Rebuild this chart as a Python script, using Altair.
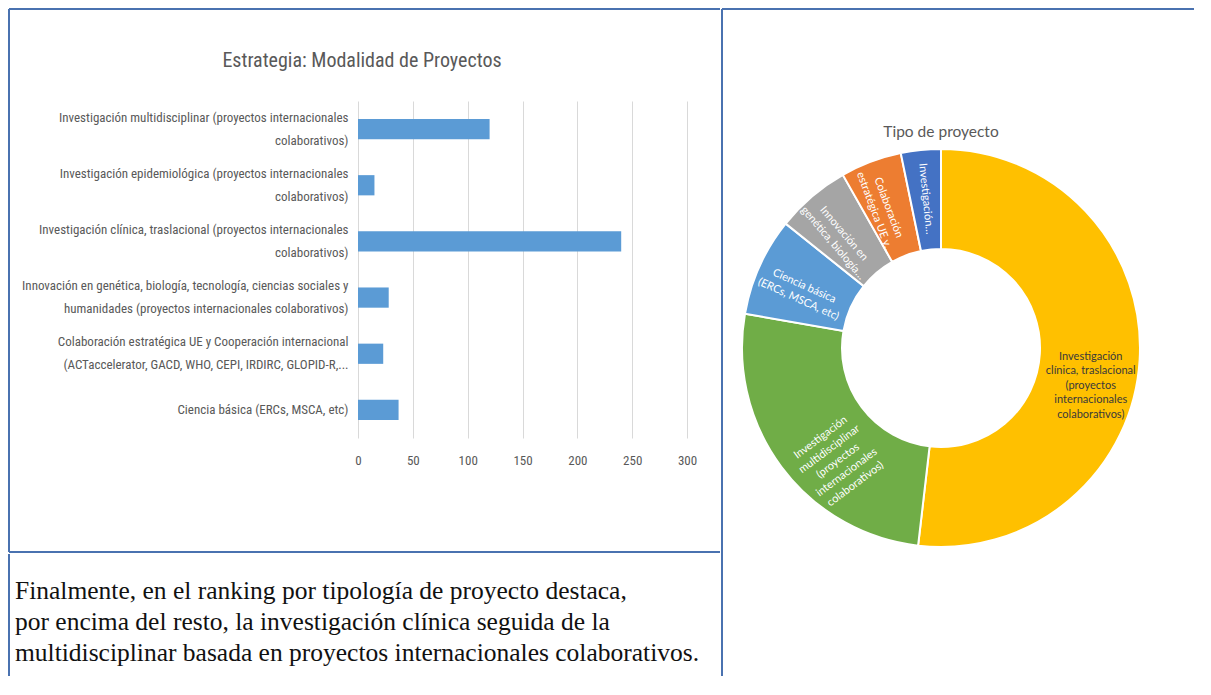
import altair as alt
import pandas as pd

# ---------------- data ----------------
bar_labels = [
    "Investigación multidisciplinar (proyectos internacionales\ncolaborativos)",
    "Investigación epidemiológica (proyectos internacionales\ncolaborativos)",
    "Investigación clínica, traslacional (proyectos internacionales\ncolaborativos)",
    "Innovación en genética, biología, tecnología, ciencias sociales y\nhumanidades (proyectos internacionales colaborativos)",
    "Colaboración estratégica UE y Cooperación internacional\n(ACTaccelerator, GACD, WHO, CEPI, IRDIRC, GLOPID-R,...",
    "Ciencia básica (ERCs, MSCA, etc)",
]
bar_values = [120, 15, 240, 28, 23, 37]
x_ticks = [0, 50, 100, 150, 200, 250, 300]
bar_title = "Estrategia: Modalidad de Proyectos"

donut_labels = [
    "Investigación\nclínica, traslacional\n(proyectos\ninternacionales\ncolaborativos)",
    "Investigación\nmultidisciplinar\n(proyectos\ninternacionales\ncolaborativos)",
    "Ciencia básica\n(ERCs, MSCA, etc)",
    "Innovación en\ngenética, biología…",
    "Colaboración\nestratégica UE y…",
    "Investigación…",
]
donut_values = [240, 120, 37, 28, 23, 15]
donut_colors = ["#FFC000", "#70AD47", "#5B9BD5", "#A5A5A5", "#ED7D31", "#4472C4"]
donut_text_colors = ["#3a3a3a", "#ffffff", "#ffffff", "#ffffff", "#ffffff", "#ffffff"]
donut_title = "Tipo de proyecto"

summary_text = (
    "Finalmente, en el ranking por tipología de proyecto destaca,\n"
    "por encima del resto, la investigación clínica seguida de la\n"
    "multidisciplinar basada en proyectos internacionales colaborativos."
)

# ---------------- style ----------------
FONT_N = "Liberation Sans Narrow, Arial Narrow, Roboto Condensed, DejaVu Sans Condensed, Liberation Sans, sans-serif"
FONT_D = "Lato, Noto Sans, sans-serif"
FONT_S = "Liberation Serif, DejaVu Serif, serif"
GRAY = "#595959"
BORDER = "#4A72B0"
one = pd.DataFrame({"k": [0]})
rule_style = dict(color=BORDER, strokeWidth=2)

# ---------------- bar chart ----------------
bar_df = pd.DataFrame({"cat": bar_labels, "value": bar_values})

bars = alt.Chart(bar_df).mark_bar(color="#5B9BD5").encode(
    x=alt.X(
        "value:Q",
        scale=alt.Scale(domain=[0, 300], nice=False),
        axis=alt.Axis(
            values=x_ticks, title=None, grid=True, gridColor="#d9d9d9",
            domain=False, ticks=False, tickSize=0, labelFont=FONT_N,
            labelFontSize=13, labelColor=GRAY, labelPadding=16, labelFlush=False,
        ),
    ),
    y=alt.Y(
        "cat:N",
        sort=bar_labels,
        scale=alt.Scale(paddingInner=0.64, paddingOuter=0.32),
        axis=alt.Axis(
            title=None, domain=False, ticks=False, tickSize=0,
            labelExpr="split(datum.value, '\\n')",
            labelOffset={
                "condition": {"test": "indexof(datum.value, '\\n') >= 0", "value": -11.5},
                "value": 0,
            },
            labelFont=FONT_N, labelFontSize=13, labelLineHeight=23,
            labelColor=GRAY, labelPadding=10, labelLimit=420,
        ),
    ),
)

bar_title_mark = alt.Chart(pd.DataFrame({"t": [bar_title]})).mark_text(
    font=FONT_N, fontSize=20, color=GRAY, align="center", baseline="middle"
).encode(text="t:N", x=alt.value(4), y=alt.value(-40))

b_top = alt.Chart(one).mark_rule(**rule_style).encode(
    x=alt.value(-349), x2=alt.value(362), y=alt.value(-92))
b_left = alt.Chart(one).mark_rule(**rule_style).encode(
    x=alt.value(-349), y=alt.value(-92), y2=alt.value(451))
b_bottom = alt.Chart(one).mark_rule(**rule_style).encode(
    x=alt.value(-349), x2=alt.value(362), y=alt.value(451))

bar_panel = alt.layer(bars, bar_title_mark, b_top, b_left, b_bottom).properties(
    width=329, height=337)

# ---------------- text panel (shares the bar view's left origin) ----------------
text_mark = alt.Chart(pd.DataFrame({"t": [summary_text]})).mark_text(
    align="left", baseline="alphabetic", font=FONT_S, fontSize=25.5,
    lineHeight=31, lineBreak="\n", color="#111111"
).encode(text="t:N", x=alt.value(-343), y=alt.value(45))
t_left = alt.Chart(one).mark_rule(**rule_style).encode(
    x=alt.value(-349), y=alt.value(0), y2=alt.value(122))
text_panel = alt.layer(text_mark, t_left).properties(width=362, height=122)

left_col = alt.vconcat(bar_panel, text_panel, spacing=0)

# ---------------- donut (view top aligned with bar view top) ----------------
donut_df = pd.DataFrame({
    "cat": donut_labels, "value": donut_values,
    "fill": donut_colors, "tcolor": donut_text_colors,
})

base = alt.Chart(donut_df).encode(
    theta=alt.Theta("value:Q", stack=True),
    order=alt.Order("value:Q", sort="descending"),
)
arcs = base.mark_arc(outerRadius=199, innerRadius=99, stroke="white", strokeWidth=2).encode(
    color=alt.Color("fill:N", scale=None))

labels = (
    base.transform_joinaggregate(total="sum(value)")
    .transform_window(cum="sum(value)", sort=[alt.SortField("value", order="descending")], frame=[None, 0])
    .transform_calculate(mid="(datum.cum - datum.value / 2) / datum.total * 360")
    .transform_calculate(rot="(datum.mid + 90) % 360")
    .transform_calculate(ang="datum.rot > 90 && datum.rot < 270 ? 0 : datum.rot")
    .mark_text(radius=150, lineBreak="\n", font=FONT_D, fontSize=11, lineHeight=14.5,
               align="center", baseline="middle")
    .encode(
        text="cat:N",
        angle=alt.Angle("ang:Q", scale=None),
        color=alt.Color("tcolor:N", scale=None),
    )
)

donut_title_mark = alt.Chart(pd.DataFrame({"t": [donut_title]})).mark_text(
    font=FONT_D, fontSize=15.5, color=GRAY, align="center", baseline="middle"
).encode(text="t:N", x=alt.value(219), y=alt.value(31))

r_left = alt.Chart(one).mark_rule(**rule_style).encode(
    x=alt.value(0), y=alt.value(-92), y2=alt.value(575))
r_top = alt.Chart(one).mark_rule(**rule_style).encode(
    x=alt.value(0), x2=alt.value(472), y=alt.value(-92))

donut_panel = alt.layer(arcs, labels, donut_title_mark, r_left, r_top).properties(
    width=438, height=494)

chart = (
    alt.hconcat(left_col, donut_panel, spacing=0)
    .properties(padding=0)
    .configure_view(strokeWidth=0)
)

chart.save("out.html", embed_options={"renderer": "svg", "actions": False})
